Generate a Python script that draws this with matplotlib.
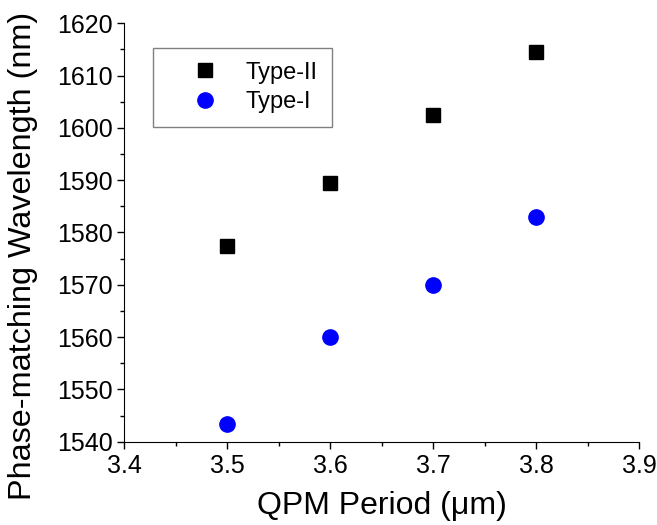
import matplotlib.pyplot as plt
from matplotlib.ticker import MultipleLocator

plt.rcParams['font.family'] = ['Liberation Sans', 'DejaVu Sans']

periodo = [3.5, 3.6, 3.7, 3.8]
tipo2 = [1577.4, 1589.4, 1602.4, 1614.6]
tipo1 = [1543.3, 1560.0, 1570.0, 1583.0]

fig = plt.figure(figsize=(6.57, 5.25), dpi=100)
ax = fig.add_axes([124 / 657, 83.3 / 525, 515 / 657, 418.4 / 525])

ax.plot(periodo, tipo2, 's', color='black', markersize=10, label='Type-II')
ax.plot(periodo, tipo1, 'o', color='blue', markersize=11, label='Type-I')

ax.set_xlim(3.4, 3.9)
ax.set_ylim(1540, 1620)
ax.xaxis.set_major_locator(MultipleLocator(0.1))
ax.xaxis.set_minor_locator(MultipleLocator(0.05))
ax.yaxis.set_major_locator(MultipleLocator(10))
ax.yaxis.set_minor_locator(MultipleLocator(5))

ax.spines['top'].set_visible(False)
ax.spines['right'].set_visible(False)
ax.tick_params(which='major', direction='out', length=5, width=1, labelsize=18)
ax.tick_params(axis='x', which='major', pad=4)
ax.tick_params(axis='y', which='major', pad=3)
ax.tick_params(which='minor', direction='out', length=3, width=1)

ax.set_xlabel('QPM Period (\u03bcm)', fontsize=23, labelpad=9)
ax.set_ylabel('Phase-matching Wavelength (nm)', fontsize=23.3)
ax.yaxis.set_label_coords(-0.167, 0.444)

leg = ax.legend(loc='upper left', bbox_to_anchor=(0.057, 0.942), fontsize=17,
                fancybox=False, edgecolor='gray', framealpha=1, borderaxespad=0,
                borderpad=0.6, handlelength=3.2, handletextpad=0.1, labelspacing=0.3)
leg.get_frame().set_linewidth(1)

plt.savefig('out.png')
